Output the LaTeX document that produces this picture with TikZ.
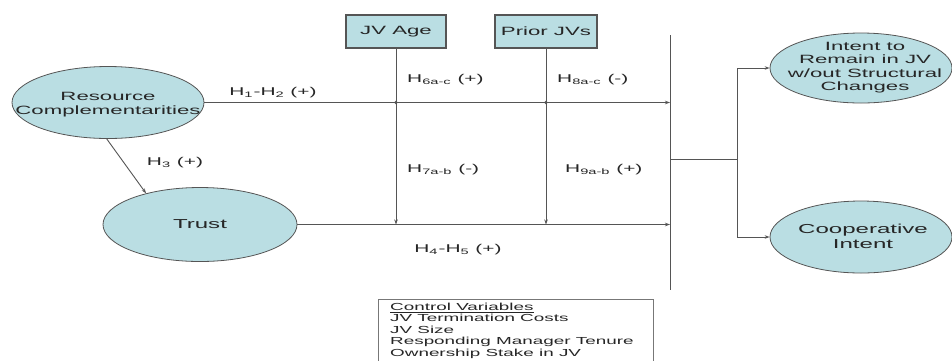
\documentclass[tikz,border=0pt]{standalone}
\usepackage{fontspec}
\setmainfont{Liberation Sans}
\usepackage{graphicx}
\usetikzlibrary{shapes.geometric,arrows.meta}
\newcommand{\wx}[1]{\scalebox{1.85}[1]{#1}}
\newcommand{\tl}[2]{\wx{\begin{tabular}{@{}#1@{}}#2\end{tabular}}}
\definecolor{fillc}{RGB}{186,222,227}
\definecolor{linec}{RGB}{85,85,85}
\begin{document}
\begin{tikzpicture}[x=1pt,y=-1pt,
  ell/.style={ellipse, draw=linec, fill=fillc, line width=0.8pt, inner sep=0pt},
  vbox/.style={rectangle, draw=linec, fill=fillc, line width=1.3pt, inner sep=0pt, minimum height=33pt},
  txt/.style={inner sep=0pt, text=black!85},
  conn/.style={draw=linec, line width=0.9pt},
  arr/.style={conn, -{Stealth[length=5pt,width=3.5pt]}},
  lab/.style={txt, font=\fontsize{11.3}{13}\selectfont}]
\clip (0,0) rectangle (952,360);
\fill[white] (0,0) rectangle (952,360);
% coordinates
\coordinate (bt) at (670,35);
\coordinate (bb) at (670,290);
\coordinate (mid) at (670,159);
\coordinate (split) at (737,159);
% ellipses
\node[ell, minimum width=192pt, minimum height=72pt] (rc) at (108,102.5) {};
\node[txt, font=\fontsize{12}{13.5}\selectfont] (rct) at (108,105) {\tl{c}{Resource\\Complementarities}};
\node[ell, minimum width=194pt, minimum height=74pt] (trust) at (200,224.5) {};
\node[txt, font=\fontsize{13}{15}\selectfont] (trustt) at (trust.center) {\wx{Trust}};
\node[ell, minimum width=182pt, minimum height=70pt] (intent) at (861,68) {};
\node[txt, font=\fontsize{12}{13.5}\selectfont] (intentt) at (865,68) {\tl{c}{Intent to\\Remain in JV\\w/out Structural\\Changes}};
\node[ell, minimum width=182pt, minimum height=72pt] (coop) at (861,237) {};
\node[txt, font=\fontsize{13}{15}\selectfont] (coopt) at (863,238) {\tl{c}{Cooperative\\Intent}};
% boxes
\node[vbox, minimum width=100pt] (jv) at (396,31.5) {};
\node[txt, font=\fontsize{12}{14}\selectfont] (jvt) at (jv.center) {\wx{JV Age}};
\node[vbox, minimum width=102pt] (pj) at (546,31.5) {};
\node[txt, font=\fontsize{12}{14}\selectfont] (pjt) at (pj.center) {\wx{Prior JVs}};
% connectors
\coordinate (d1) at (jv.south |- rc.east);
\coordinate (d2) at (pj.south |- rc.east);
\draw[arr] (rc.east) -- (rc.east -| bt);
\draw[arr] (trust.east) -- (trust.east -| bt);
\draw[arr] (jv.south) -- (jv.south |- trust.east);
\draw[arr] (pj.south) -- (pj.south |- trust.east);
\fill[linec] (d1) circle (1.9pt);
\fill[linec] (d2) circle (1.9pt);
\draw[arr] (rc.268) -- (trust.150);
\draw[conn] (bt) -- (bb);
\draw[conn] (mid) -- (split);
\draw[arr] (split) |- (intent.west);
\draw[arr] (split) |- (coop.west);
% labels
\node[lab] (l12) at (273,93) {\wx{H\textsubscript{1}-H\textsubscript{2} (+)}};
\node[lab] (l3) at (175,163) {\wx{H\textsubscript{3} (+)}};
\node[lab, anchor=west] (l6) at (407,80) {\wx{H\textsubscript{6a-c} (+)}};
\node[lab, anchor=west] (l8) at (557,80) {\wx{H\textsubscript{8a-c} (-)}};
\node[lab, anchor=west] (l7) at (407,170) {\wx{H\textsubscript{7a-b} (-)}};
\node[lab, anchor=west] (l9) at (565,170) {\wx{H\textsubscript{9a-b} (+)}};
\node[lab] (l45) at (458,250) {\wx{H\textsubscript{4}-H\textsubscript{5} (+)}};
% control variables
\node[draw=linec!80, line width=0.9pt, fill=white, minimum width=275pt, minimum height=75pt, anchor=north west, inner sep=0pt] (cv) at (378,299) {};
\node[txt, anchor=north west, font=\fontsize{10.2}{11.5}\selectfont] (cvt) at ([xshift=12pt,yshift=-3pt]cv.north west) {\tl{l}{\underline{Control Variables}\\JV Termination Costs\\JV Size\\Responding Manager Tenure\\Ownership Stake in JV}};
\end{tikzpicture}
\end{document}
